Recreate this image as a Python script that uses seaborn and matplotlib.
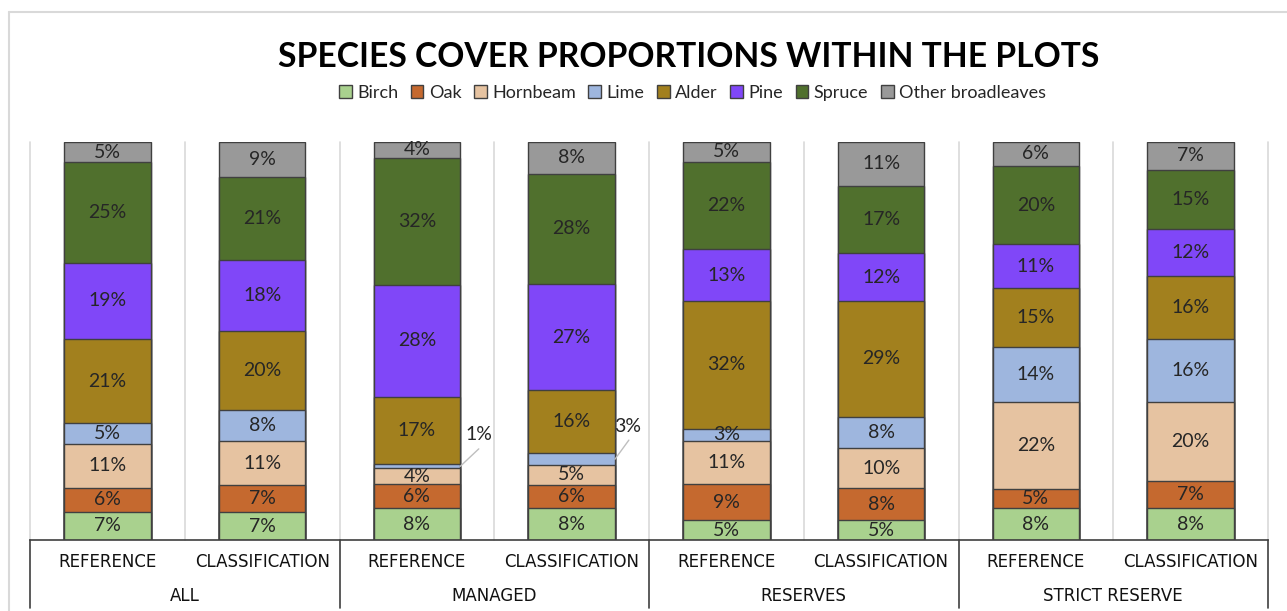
import numpy as np
import pandas as pd
import matplotlib
matplotlib.use("Agg")
import matplotlib.pyplot as plt
import matplotlib.transforms as mtransforms
from matplotlib.patches import Patch
from matplotlib.lines import Line2D
import seaborn as sns

# ---- data (percent cover per species, bottom to top of each bar) ----
species = ["Birch", "Oak", "Hornbeam", "Lime", "Alder", "Pine", "Spruce", "Other broadleaves"]
colors = ["#A9D18E", "#C5692F", "#E6C3A1", "#9EB6DE", "#A2801E", "#8047F8", "#50702D", "#999999"]
groups = ["ALL", "MANAGED", "RESERVES", "STRICT RESERVE"]
sources = ["REFERENCE", "CLASSIFICATION"]

birch    = [7, 7, 8, 8, 5, 5, 8, 8]
oak      = [6, 7, 6, 6, 9, 8, 5, 7]
hornbeam = [11, 11, 4, 5, 11, 10, 22, 20]
lime     = [5, 8, 1, 3, 3, 8, 14, 16]
alder    = [21, 20, 17, 16, 32, 29, 15, 16]
pine     = [19, 18, 28, 27, 13, 12, 11, 12]
spruce   = [25, 21, 32, 28, 22, 17, 20, 15]
other    = [5, 9, 4, 8, 5, 11, 6, 7]

vals = np.array([birch, oak, hornbeam, lime, alder, pine, spruce, other], dtype=float)
bars = [f"{g}|{s}" for g in groups for s in sources]
n_bars = len(bars)

# 100 % stacked: each bar is scaled to its own total
share = vals / vals.sum(axis=0) * 100
cum = share.cumsum(axis=0)

sns.set_style("white")
plt.rcParams["font.family"] = ["Lato", "DejaVu Sans"]

W, H = 1287, 611
fig = plt.figure(figsize=(W / 100, H / 100), dpi=100)
ax = fig.add_axes([30 / W, 1 - 540 / H, 1238 / W, 398 / H])

edge = "#404040"
# draw cumulative heights from the top layer down so each segment shows
for i in reversed(range(len(species))):
    df = pd.DataFrame({"bar": bars, "cum": cum[i]})
    sns.barplot(data=df, x="bar", y="cum", order=bars, color=colors[i],
                saturation=1, width=0.56, edgecolor=edge, linewidth=1.0,
                errorbar=None, ax=ax, zorder=2)

ax.set_xlim(-0.5, n_bars - 0.5)
ax.set_ylim(0, 100)
ax.set_xticks([])
ax.set_yticks([])
ax.set_xlabel("")
ax.set_ylabel("")
for side in ["top", "left", "right"]:
    ax.spines[side].set_visible(False)
ax.spines["bottom"].set_color(edge)
ax.spines["bottom"].set_linewidth(1.2)

# vertical gridlines between bars
for b in np.arange(-0.5, n_bars, 1.0):
    ax.axvline(b, color="#D9D9D9", lw=1.2, zorder=0, clip_on=False)

# segment labels
text_col = "#262626"
leader = {(3, 2): ((2.40, 26.4), (2.40, 22.9)),
          (3, 3): ((3.365, 28.4), (3.37, 25.1))}
for j in range(n_bars):
    for i in range(len(species)):
        v = int(vals[i, j])
        yc = cum[i, j] - share[i, j] / 2
        if (i, j) in leader:
            (tx, ty), (lx, ly) = leader[(i, j)]
            ax.plot([j + 0.28, lx], [yc, ly], color="#BFBFBF", lw=1.0, zorder=3)
            ax.text(tx, ty, f"{v}%", ha="center", va="center",
                    fontsize=14, color=text_col, zorder=4)
        else:
            ax.text(j, yc, f"{v}%", ha="center", va="center",
                    fontsize=14, color=text_col, zorder=4)

# two-level category table under the axis
trans = mtransforms.blended_transform_factory(ax.transData, ax.transAxes)
for b in [-0.5, 1.5, 3.5, 5.5, 7.5]:
    ax.plot([b, b], [0, -0.171], transform=trans, clip_on=False,
            color=edge, lw=1.2)
for j, key in enumerate(bars):
    src = key.split("|")[1]
    ax.text(j, -0.055, src, transform=trans, ha="center", va="center",
            fontsize=12, family="DejaVu Sans", color="#111111")
for k, g in enumerate(groups):
    ax.text(2 * k + 0.5, -0.141, g, transform=trans, ha="center", va="center",
            fontsize=12, family="DejaVu Sans", color="#111111")

# legend
handles = [Patch(facecolor=c, edgecolor=edge, linewidth=1.0) for c in colors]
fig.legend(handles, species, loc="center", bbox_to_anchor=(0.538, 1 - 93 / H),
           ncol=len(species), frameon=False, fontsize=13,
           handlelength=0.7, handleheight=0.7, handletextpad=0.3,
           columnspacing=0.7, labelcolor=text_col)

# title
title = fig.text(689 / W, 1 - 57 / H, "SPECIES COVER PROPORTIONS WITHIN THE PLOTS",
                 ha="center", va="center", fontsize=26, fontweight="bold",
                 family=["Liberation Sans Narrow", "Lato", "DejaVu Sans"], color="black")
fig.canvas.draw()
bb = title.get_window_extent()
title.set_fontsize(26 * 822 / bb.width)

# chart frame
fig.add_artist(Line2D([9 / W, 9 / W], [0, 1 - 12 / H], color="#D9D9D9", lw=1.5))
fig.add_artist(Line2D([9 / W, 1], [1 - 12 / H, 1 - 12 / H], color="#D9D9D9", lw=1.5))

fig.savefig("out.png", dpi=100)
